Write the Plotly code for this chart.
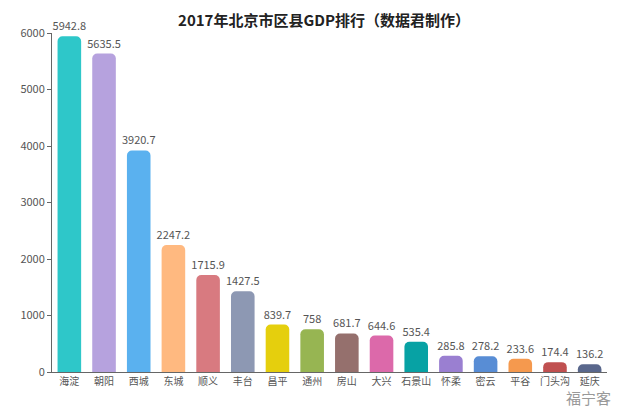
import plotly.graph_objects as go

districts = ["海淀", "朝阳", "西城", "东城", "顺义", "丰台", "昌平", "通州",
             "房山", "大兴", "石景山", "怀柔", "密云", "平谷", "门头沟", "延庆"]
gdp = [5942.8, 5635.5, 3920.7, 2247.2, 1715.9, 1427.5, 839.7, 758,
       681.7, 644.6, 535.4, 285.8, 278.2, 233.6, 174.4, 136.2]
colors = ["#2ec7c9", "#b6a2de", "#5ab1ef", "#ffb980", "#d87a80", "#8d98b3",
          "#e5cf0d", "#97b552", "#95706d", "#dc69aa", "#07a2a4", "#9a7fd1",
          "#588dd5", "#f5994e", "#c05050", "#59678c"]
labels = [f"{v:g}" for v in gdp]

font = "Noto Sans CJK SC"

fig = go.Figure(go.Bar(
    x=districts, y=gdp, marker_color=colors, marker_line_width=0,
    marker_cornerradius=5,
    text=labels, textposition="outside", cliponaxis=False, constraintext="none",
    textfont=dict(size=11, color="#555555", family=font),
))

# page has an 8px body margin, so the figure is drawn a bit smaller
fig.update_layout(
    width=632, height=410,
    margin=dict(l=35, r=33, t=25, b=46),
    plot_bgcolor="white", paper_bgcolor="white",
    bargap=0.32,
    showlegend=False,
    title=dict(text="<b>2017年北京市区县GDP排行（数据君制作）</b>", x=0.5, xanchor="center",
               y=0.982, yanchor="top", pad=dict(t=0),
               font=dict(size=15, color="#222222", family=font)),
    font=dict(family=font),
)
fig.update_xaxes(showline=True, linecolor="#666666", linewidth=1, ticks="",
                 tickfont=dict(size=10, color="#555555"), showgrid=False)
fig.update_yaxes(range=[0, 6000], dtick=1000, showline=True, linecolor="#666666",
                 linewidth=1, ticks="outside", ticklen=4, tickcolor="#666666",
                 tickfont=dict(size=11, color="#555555"), showgrid=False, zeroline=False)

fig.add_annotation(text="福宁客", xref="paper", yref="paper", x=1.01, y=-0.075,
                   xanchor="right", yanchor="middle",
                   showarrow=False, font=dict(size=15, color="#999999", family=font))

fig.write_html("out.html")
